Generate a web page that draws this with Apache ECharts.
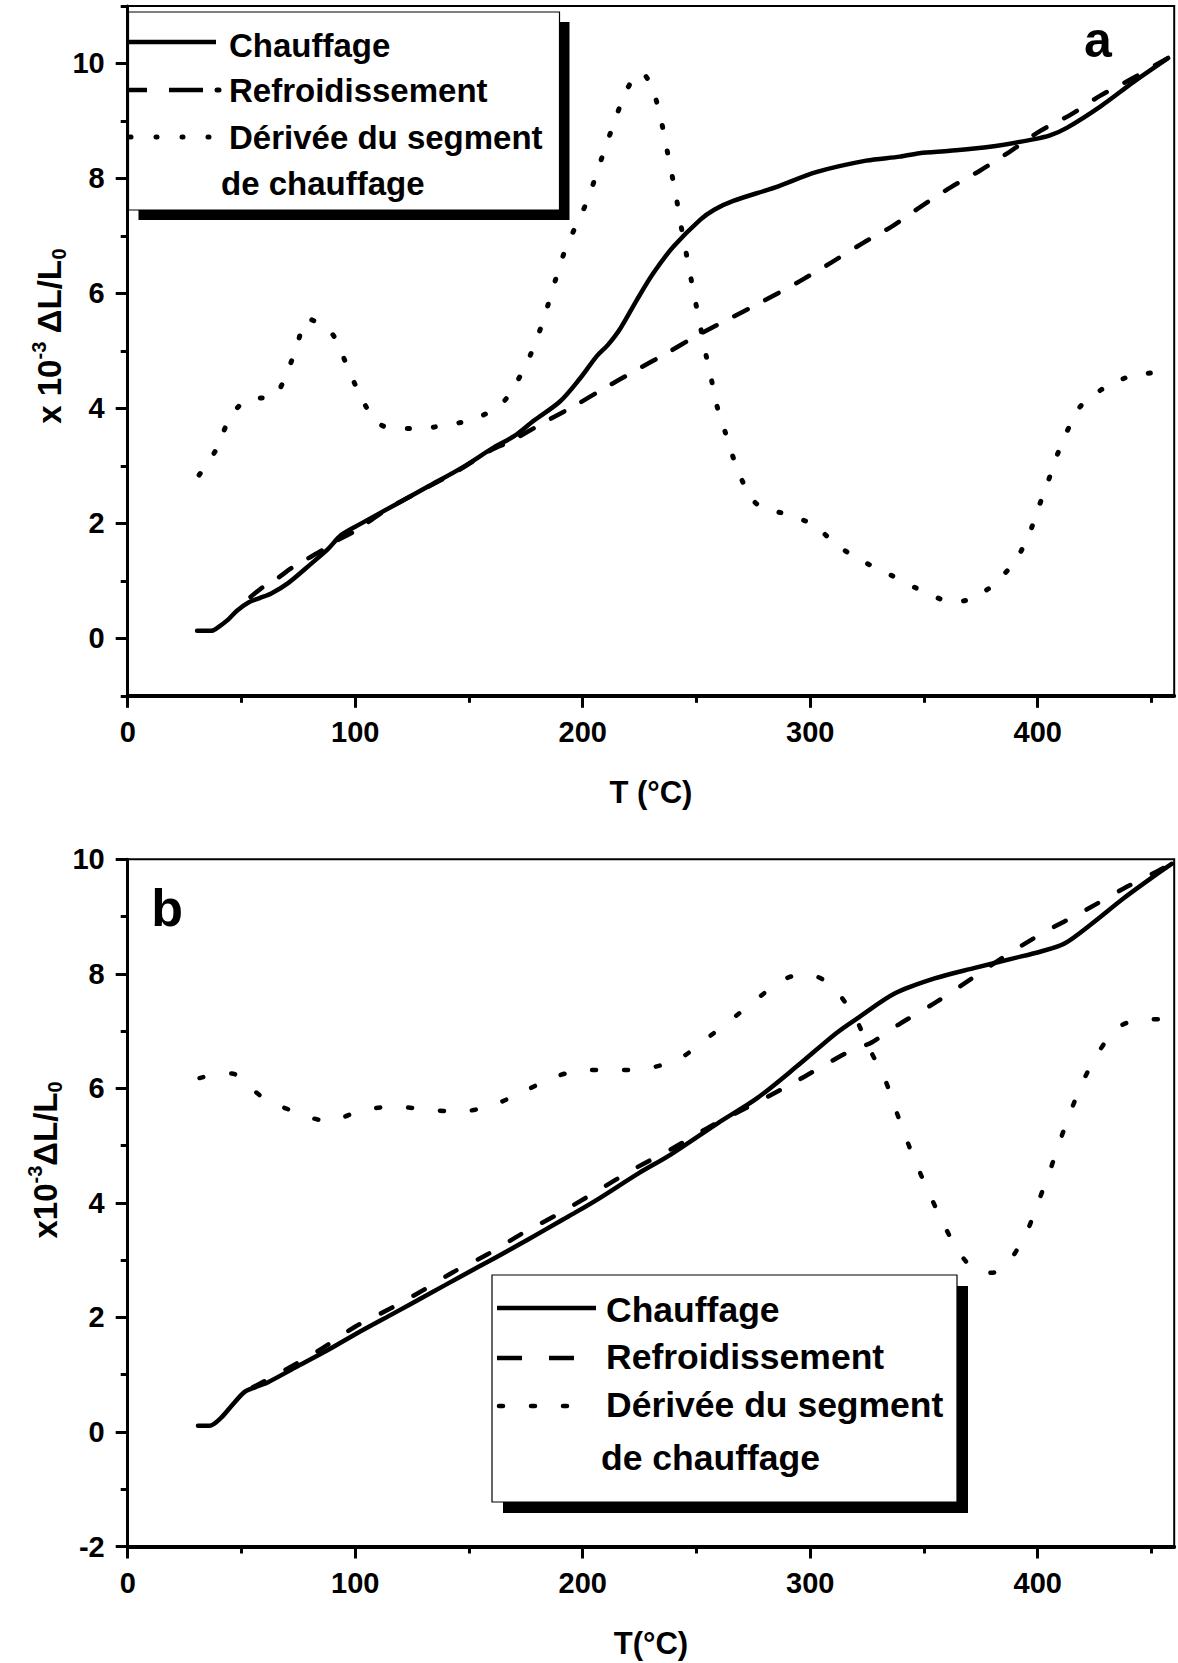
<!DOCTYPE html>
<html>
<head>
<meta charset="utf-8">
<title>Dilatométrie</title>
<script src="https://cdn.jsdelivr.net/npm/echarts@6/dist/echarts.min.js"></script>
<style>
  html, body { margin: 0; padding: 0; background: #fff; }
  #chart { width: 1178px; height: 1663px; }
</style>
</head>
<body>
<div id="chart"></div>
<script>
// ---- Panel (a): [T (°C), x10^-3 ΔL/L0] ----
const heatA = [[30.5,0.13],[36.8,0.13],[40,0.2],[44,0.32],[48,0.48],[52.9,0.62],[58,0.7],[63.1,0.78],[70.5,0.96],[80.7,1.3],[88,1.55],[93.9,1.8],[102.7,2.0],[117.4,2.32],[132,2.64],[146.6,2.96],[161.3,3.33],[170,3.52],[178.3,3.78],[190,4.12],[198.8,4.52],[206.2,4.91],[211,5.1],[216.4,5.38],[223.7,5.88],[231,6.35],[239.8,6.81],[251.6,7.28],[258,7.46],[266.2,7.61],[285,7.85],[302.6,8.11],[324.6,8.31],[339.5,8.38],[348,8.44],[361.4,8.48],[379,8.55],[398,8.68],[405.4,8.75],[412.8,8.88],[427.5,9.25],[442.2,9.68],[456.8,10.08]];
const coolA = [[54,0.72],[58.7,0.87],[65,1.02],[71.9,1.22],[78.8,1.38],[85.8,1.54],[92,1.7],[100,1.87],[115,2.27],[130,2.59],[145,2.91],[160,3.28],[168,3.42],[182.7,3.75],[196.6,4.05],[209.5,4.35],[223.7,4.67],[236.9,4.96],[250,5.26],[264,5.55],[278.6,5.85],[295.3,6.21],[309.4,6.54],[323.3,6.88],[336.5,7.18],[347.5,7.48],[361.9,7.85],[374.4,8.13],[387.5,8.46],[400.8,8.82],[414.9,9.12],[427.5,9.44],[440.7,9.72],[453.8,10.02],[457.5,10.1]];
const derivA = [[31.4,2.84],[39,3.29],[43.6,3.73],[48,4.0],[52.9,4.16],[58,4.18],[64,4.2],[70.3,4.65],[74.4,5.1],[79,5.56],[83,5.5],[90.4,5.27],[95.7,4.81],[100.5,4.37],[106.4,3.92],[111,3.72],[116.9,3.65],[128.3,3.65],[139.8,3.71],[151,3.8],[162.3,4.01],[167,4.2],[171.1,4.46],[176.8,4.91],[181.2,5.36],[184.9,5.82],[188.3,6.27],[191.9,6.71],[196.8,7.16],[202,7.61],[205.9,8.06],[209.7,8.51],[213.8,8.97],[218,9.42],[222,9.72],[225.9,9.84],[229,9.7],[231.8,9.43],[234.6,8.99],[236.9,8.53],[239.1,8.09],[241.3,7.63],[243.2,7.18],[245.3,6.74],[247.5,6.28],[249.7,5.83],[251.9,5.39],[254.2,4.93],[256.7,4.48],[259.1,4.03],[262.7,3.58],[266.2,3.14],[270.6,2.7],[275,2.4],[279.1,2.27],[290.4,2.15],[301.4,1.97],[312.8,1.59],[324.1,1.32],[335.4,1.1],[346.8,0.87],[358.2,0.67],[364,0.64],[369.5,0.67],[375,0.78],[380.9,0.94],[390.3,1.36],[396.2,1.81],[400.3,2.27],[404.4,2.71],[408.4,3.17],[413,3.61],[419.3,4.06],[430.3,4.38],[441.6,4.57],[453,4.63],[456,4.64]];

// ---- Panel (b) ----
const heatB = [[30.9,0.11],[36,0.11],[41.1,0.25],[45.5,0.45],[51.4,0.7],[56,0.78],[61.7,0.87],[73.4,1.12],[88,1.43],[102,1.75],[117.3,2.08],[132,2.4],[146.6,2.72],[161,3.03],[176,3.36],[190,3.68],[198,3.86],[207.3,4.08],[224.7,4.52],[238.5,4.84],[259.3,5.39],[276.7,5.83],[294,6.38],[311.3,6.96],[321.7,7.25],[337.3,7.66],[354.7,7.92],[371.9,8.1],[389.3,8.27],[401.4,8.39],[411.8,8.53],[423.9,8.88],[437.8,9.32],[451.6,9.72],[458.9,9.92]];
const coolB = [[55,0.78],[70,1.1],[85.1,1.45],[100.5,1.85],[115.2,2.15],[130.5,2.49],[143,2.79],[157.6,3.09],[174.5,3.49],[189.9,3.82],[205.6,4.19],[222.9,4.6],[239.4,4.95],[255.9,5.33],[272,5.66],[289.6,6.03],[305.2,6.38],[316,6.62],[322.5,6.73],[327,6.8],[338.7,7.11],[355.5,7.51],[371.1,7.92],[387.6,8.36],[403.5,8.74],[419.6,9.08],[437.8,9.49],[452,9.78],[458.5,9.92]];
const derivB = [[31.6,6.18],[38,6.24],[45.8,6.26],[52,6.08],[59.9,5.83],[74.1,5.58],[88,5.43],[95,5.5],[102.2,5.61],[116.2,5.68],[130.3,5.64],[144.4,5.59],[158.4,5.68],[172.3,5.91],[186.5,6.18],[200.4,6.32],[214.3,6.32],[228.5,6.35],[242.5,6.52],[255.5,6.9],[268.8,7.31],[282.7,7.75],[290,7.93],[296.6,7.99],[303,7.95],[309.6,7.79],[314.5,7.55],[319.6,7.26],[325.2,6.76],[333,6.14],[338.2,5.56],[343.3,5.01],[349,4.46],[355.5,3.89],[362.4,3.34],[368,3.0],[373.7,2.8],[380,2.78],[386.7,2.94],[395,3.48],[400.5,4.04],[405.7,4.6],[410.4,5.15],[415.6,5.71],[421.7,6.27],[430,6.83],[436,7.08],[443.5,7.19],[457.4,7.21]];

// ---- Tick positions ----
const xMajorTicks = [0, 100, 200, 300, 400];
const xMinorTicks = [50, 150, 250, 350, 450];
const yMajorTicksA = [0, 2, 4, 6, 8, 10];
const yMinorTicksA = [-1, 1, 3, 5, 7, 9, 11];
const yMajorTicksB = [-2, 0, 2, 4, 6, 8, 10];
const yMinorTicksB = [-1, 1, 3, 5, 7, 9];

const seriesNames = ['Chauffage', 'Refroidissement', 'Dérivée du segment', 'de chauffage'];

const FONT = "'Liberation Sans', Arial, Helvetica, sans-serif";
const BLACK = '#000';

const chart = echarts.init(document.getElementById('chart'), null, { renderer: 'svg' });

const PLOT_LEFT = 127.7, PLOT_W = 1046.5;
const gridA = { left: PLOT_LEFT, top: 6, width: PLOT_W, height: 689.8 };
const gridB = { left: PLOT_LEFT, top: 859.3, width: PLOT_W, height: 687.2 };

function grid(rect, visible) {
  return Object.assign({
    show: visible, borderColor: BLACK, borderWidth: 2, backgroundColor: 'transparent',
    containLabel: false, outerBoundsMode: 'none'
  }, rect);
}

const labelStyle = { color: BLACK, fontSize: 29, fontWeight: 'bold', fontFamily: FONT };
const tickLine = { color: BLACK, width: 3 };

// Main axes carry the labels and long ticks; a twin grid carries the short ticks
function mainX(gridIndex, name) {
  return {
    type: 'value', gridIndex, min: 0, max: 460, position: 'bottom',
    axisLine: { show: true, onZero: false, lineStyle: { color: BLACK, width: 4 } },
    axisTick: { show: true, customValues: xMajorTicks, length: 12, lineStyle: tickLine },
    minorTick: { show: false },
    axisLabel: Object.assign({ customValues: xMajorTicks, margin: 22 }, labelStyle),
    splitLine: { show: false },
    name, nameLocation: 'middle', nameGap: 81, nameMoveOverlap: false,
    nameTextStyle: { color: BLACK, fontSize: 31, fontWeight: 'bold', fontFamily: FONT }
  };
}
function minorX(gridIndex) {
  return {
    type: 'value', gridIndex, min: 0, max: 460, position: 'bottom',
    axisLine: { show: false, onZero: false },
    axisTick: { show: true, customValues: xMinorTicks, length: 7, lineStyle: tickLine },
    axisLabel: { show: false }, splitLine: { show: false }
  };
}
function mainY(gridIndex, min, max, ticks) {
  return {
    type: 'value', gridIndex, min, max, position: 'left',
    axisLine: { show: true, onZero: false, lineStyle: { color: BLACK, width: 3 } },
    axisTick: { show: true, customValues: ticks, length: 12, lineStyle: tickLine },
    minorTick: { show: false },
    axisLabel: Object.assign({ customValues: ticks, margin: 23 }, labelStyle),
    splitLine: { show: false }
  };
}
function minorY(gridIndex, min, max, ticks) {
  return {
    type: 'value', gridIndex, min, max, position: 'left',
    axisLine: { show: false, onZero: false },
    axisTick: { show: true, customValues: ticks, length: 7, lineStyle: tickLine },
    axisLabel: { show: false }, splitLine: { show: false }
  };
}

function curve(name, data, xi, kind) {
  const styles = {
    solid:  { type: 'solid', width: 4.5, cap: 'round', join: 'round' },
    dashA:  { type: [15, 20], width: 4.5, cap: 'round', join: 'round' },
    dotA:   { type: [2, 24], width: 5, cap: 'round', join: 'round' },
    dashB:  { type: [13, 24], width: 4.5, cap: 'round', join: 'round' },
    dotB:   { type: [4, 28], width: 4.5, cap: 'round', join: 'round' }
  };
  return {
    name, type: 'line', xAxisIndex: xi, yAxisIndex: xi, data,
    showSymbol: false, symbol: 'none', smooth: 0.3, silent: true, clip: true,
    lineStyle: Object.assign({ color: BLACK }, styles[kind]), z: 3
  };
}

// Legend box with a drop shadow, drawn as graphic elements
function legendBox(o) {
  const els = [];
  els.push({ type: 'rect', z: 20, shape: { x: o.x + o.sh, y: o.y + o.sh, width: o.w, height: o.h }, style: { fill: BLACK } });
  els.push({ type: 'rect', z: 21, shape: { x: o.x, y: o.y, width: o.w, height: o.h }, style: { fill: '#fff', stroke: BLACK, lineWidth: 1.2 } });
  o.samples.forEach(s => {
    els.push({ type: 'line', z: 22, shape: { x1: s[0], y1: s[2], x2: s[1], y2: s[2] },
      style: { stroke: BLACK, lineWidth: s[3], lineCap: s[4] || 'butt' } });
  });
  o.texts.forEach(t => {
    els.push({ type: 'text', z: 22, x: t[1], y: t[2],
      style: { text: t[0], fill: BLACK, fontSize: o.fs, fontWeight: 'bold', fontFamily: FONT,
               align: 'left', verticalAlign: 'middle', textAlign: 'left', textVerticalAlign: 'middle' } });
  });
  return els;
}

const legendA = legendBox({
  x: 128.5, y: 12, w: 431, h: 198, sh: 10, fs: 33,
  samples: [
    [129, 216, 42, 4.5],
    [129, 147, 90, 4.5], [169, 203, 90, 4.5], [217, 219, 90, 5, 'round'],
    [130, 131, 137, 5, 'round'], [156, 157, 137, 5, 'round'], [182, 183, 137, 5, 'round'], [208, 209, 137, 5, 'round']
  ],
  texts: [[seriesNames[0], 229, 45], [seriesNames[1], 229, 90], [seriesNames[2], 229, 137], [seriesNames[3], 221, 183]]
});
const legendB = legendBox({
  x: 492, y: 1275, w: 465, h: 227, sh: 11, fs: 35.5,
  samples: [
    [497, 596, 1308, 4.5],
    [497, 522, 1358, 4.5], [549, 574, 1358, 4.5],
    [499, 503, 1406, 4.5, 'round'], [531, 535, 1406, 4.5, 'round'], [563, 567, 1406, 4.5, 'round']
  ],
  texts: [[seriesNames[0], 606, 1310], [seriesNames[1], 606, 1357], [seriesNames[2], 606, 1405], [seriesNames[3], 601, 1458]]
});

function yTitle(x, y, parts) {
  return {
    type: 'text', z: 22, x, y, rotation: Math.PI / 2,
    style: {
      text: parts, fill: BLACK, align: 'center', verticalAlign: 'middle',
      textAlign: 'center', textVerticalAlign: 'middle',
      rich: {
        n: { fontSize: 33, fontWeight: 'bold', fontFamily: FONT, lineHeight: 40, fill: BLACK },
        s: { fontSize: 20, fontWeight: 'bold', fontFamily: FONT, verticalAlign: 'top', lineHeight: 20, fill: BLACK },
        b: { fontSize: 20, fontWeight: 'bold', fontFamily: FONT, verticalAlign: 'bottom', lineHeight: 20, fill: BLACK }
      }
    }
  };
}

function panelLetter(letter, x, y, size) {
  return { type: 'text', z: 22, x, y,
    style: { text: letter, fill: BLACK, fontSize: size, fontWeight: 'bold', fontFamily: FONT,
             align: 'center', verticalAlign: 'middle', textAlign: 'center', textVerticalAlign: 'middle' } };
}

chart.setOption({
  animation: false,
  backgroundColor: '#fff',
  grid: [grid(gridA, true), grid(gridA, false), grid(gridB, true), grid(gridB, false)],
  xAxis: [mainX(0, 'T (°C)'), minorX(1), mainX(2, 'T(°C)'), minorX(3)],
  yAxis: [mainY(0, -1, 11, yMajorTicksA), minorY(1, -1, 11, yMinorTicksA),
          mainY(2, -2, 10, yMajorTicksB), minorY(3, -2, 10, yMinorTicksB)],
  series: [
    curve(seriesNames[0], heatA, 0, 'solid'),
    curve(seriesNames[1], coolA, 0, 'dashA'),
    curve(seriesNames[2], derivA, 0, 'dotA'),
    curve(seriesNames[0], heatB, 2, 'solid'),
    curve(seriesNames[1], coolB, 2, 'dashB'),
    curve(seriesNames[2], derivB, 2, 'dotB')
  ],
  graphic: [].concat(
    legendA, legendB,
    [
      yTitle(49, 336, '{n|x 10}{s|-3}{n| ΔL/L}{b|0}'),
      yTitle(45, 1160, '{n|x10}{s|-3}{n|ΔL/L}{b|0}'),
      panelLetter('a', 1098, 40, 50),
      panelLetter('b', 167, 908, 52)
    ]
  )
});
</script>
</body>
</html>
